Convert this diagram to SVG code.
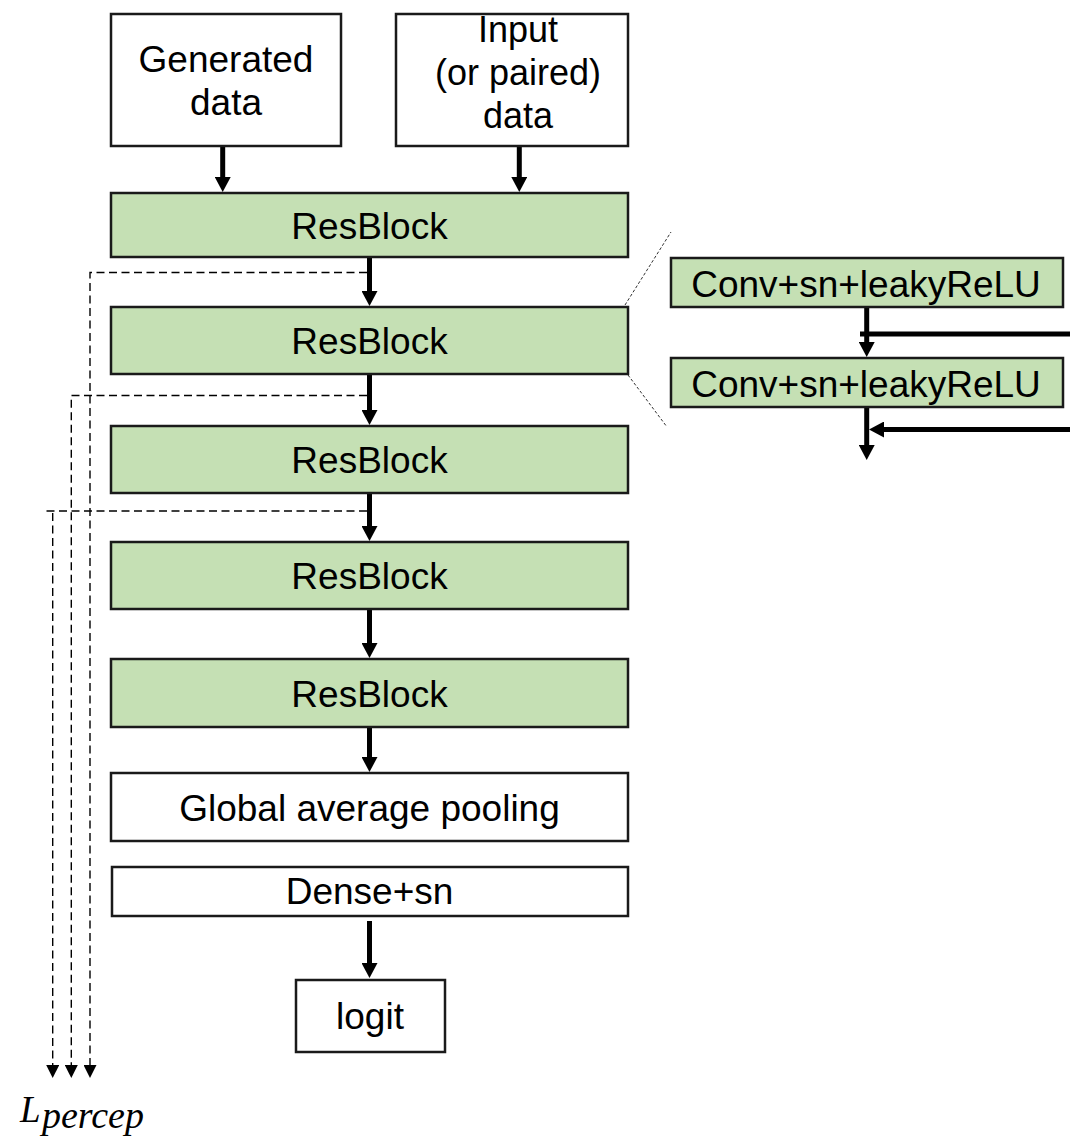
<svg xmlns="http://www.w3.org/2000/svg" width="1070" height="1144" viewBox="0 0 1070 1144">
  <style>
    .box { fill: #ffffff; stroke: #1a1a1a; stroke-width: 2.5; }
    .res { fill: #c5e0b4; stroke: #1a1a1a; stroke-width: 2.5; }
    .lbl { font-family: "Liberation Sans", Arial, sans-serif; font-size: 37px; fill: #000; text-anchor: middle; }
    .small { font-size: 36px; }
    .flow { stroke: #000; stroke-width: 5; fill: none; marker-end: url(#ah); }
    .bar { stroke: #000; stroke-width: 5; fill: none; }
    .tap { stroke: #000; stroke-width: 1.4; stroke-dasharray: 8 4.5; fill: none; }
    .tapArr { marker-end: url(#dh); }
    .zoomln { stroke: #333; stroke-width: 1; stroke-dasharray: 3 2; fill: none; }
    .math { font-family: "Liberation Serif", "Times New Roman", serif; font-style: italic; fill: #000; }
  </style>
  <defs>
    <marker id="ah" viewBox="0 0 15 16" refX="3" refY="8" markerWidth="15" markerHeight="16" markerUnits="userSpaceOnUse" orient="auto">
      <path d="M0,0 L15,8 L0,16 z" fill="#000"/>
    </marker>
    <marker id="dh" viewBox="0 0 13 13" refX="3" refY="6.5" markerWidth="13" markerHeight="13" markerUnits="userSpaceOnUse" orient="auto">
      <path d="M0,0 L13,6.5 L0,13 z" fill="#000"/>
    </marker>
  </defs>

  <g id="connectors">
    <line class="flow" x1="222.7" y1="146" x2="222.7" y2="180"/>
    <line class="flow" x1="519.3" y1="146" x2="519.3" y2="180"/>
    <line class="flow" x1="369.5" y1="258" x2="369.5" y2="294"/>
    <line class="flow" x1="369.5" y1="375" x2="369.5" y2="413"/>
    <line class="flow" x1="369.5" y1="494" x2="369.5" y2="529"/>
    <line class="flow" x1="369.5" y1="610" x2="369.5" y2="646"/>
    <line class="flow" x1="369.5" y1="728" x2="369.5" y2="760"/>
    <line class="flow" x1="369.5" y1="921" x2="369.5" y2="966"/>

    <path class="tap tapArr" d="M367,272.5 H90 V1068"/>
    <path class="tap tapArr" d="M367,395.5 H71.3 V1068"/>
    <path class="tap" d="M367,511 H46"/>
    <path class="tap tapArr" d="M52.7,513 V1068"/>

    <line class="zoomln" x1="625" y1="305" x2="671" y2="232"/>
    <line class="zoomln" x1="628" y1="375" x2="667" y2="427"/>

    <line class="flow" x1="866.7" y1="307" x2="866.7" y2="345"/>
    <line class="bar" x1="860" y1="334" x2="1070" y2="334"/>
    <line class="flow" x1="866.7" y1="407" x2="866.7" y2="448"/>
    <line class="flow" x1="1070" y1="429.5" x2="881" y2="429.5"/>
  </g>

  <g id="generated">
    <rect class="box" x="111" y="14" width="230" height="132"/>
    <text class="lbl" x="226" y="72">Generated</text>
    <text class="lbl" x="226" y="115">data</text>
  </g>
  <g id="input">
    <rect class="box" x="396" y="14" width="232" height="132"/>
    <text class="lbl small" x="518" y="42">Input</text>
    <text class="lbl small" x="518" y="85">(or paired)</text>
    <text class="lbl small" x="518" y="128">data</text>
  </g>

  <g id="resblock1">
    <rect class="res" x="111" y="193" width="517" height="64"/>
    <text class="lbl" x="369.5" y="238.5">ResBlock</text>
  </g>
  <g id="resblock2">
    <rect class="res" x="111" y="307" width="517" height="67"/>
    <text class="lbl" x="369.5" y="354">ResBlock</text>
  </g>
  <g id="resblock3">
    <rect class="res" x="111" y="426" width="517" height="67"/>
    <text class="lbl" x="369.5" y="473">ResBlock</text>
  </g>
  <g id="resblock4">
    <rect class="res" x="111" y="542" width="517" height="67"/>
    <text class="lbl" x="369.5" y="589">ResBlock</text>
  </g>
  <g id="resblock5">
    <rect class="res" x="111" y="659" width="517" height="68"/>
    <text class="lbl" x="369.5" y="706.5">ResBlock</text>
  </g>

  <g id="gap">
    <rect class="box" x="111" y="773" width="517" height="68"/>
    <text class="lbl" x="369.5" y="820.5">Global average pooling</text>
  </g>
  <g id="dense">
    <rect class="box" x="112" y="867" width="516" height="49"/>
    <text class="lbl" x="369.5" y="904">Dense+sn</text>
  </g>
  <g id="logit">
    <rect class="box" x="296" y="980" width="149" height="72"/>
    <text class="lbl" x="370" y="1029">logit</text>
  </g>

  <g id="conv1">
    <rect class="res" x="671" y="258" width="392" height="49"/>
    <text class="lbl" x="866" y="296.5">Conv+sn+leakyReLU</text>
  </g>
  <g id="conv2">
    <rect class="res" x="671" y="358" width="392" height="49"/>
    <text class="lbl" x="866" y="396.5">Conv+sn+leakyReLU</text>
  </g>

  <g id="lpercep">
    <text class="math" x="20" y="1122" font-size="37">L</text>
    <text class="math" x="42" y="1128" font-size="38">percep</text>
  </g>
</svg>
